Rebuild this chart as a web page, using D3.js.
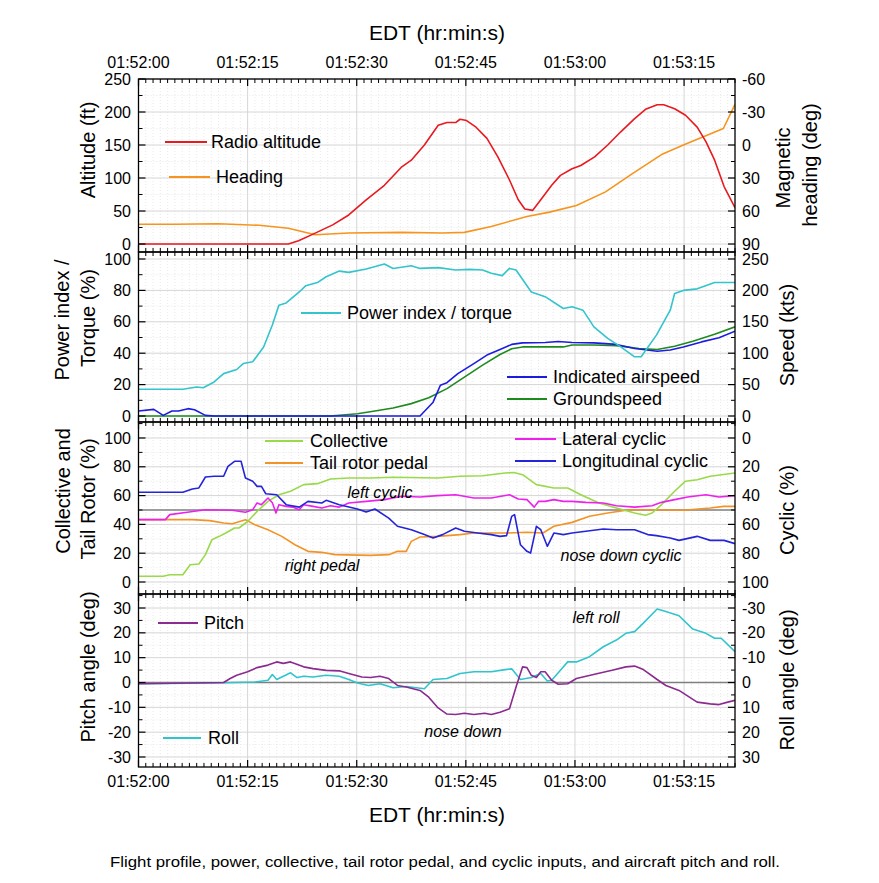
<!DOCTYPE html>
<html><head><meta charset="utf-8">
<script src="https://cdn.jsdelivr.net/npm/d3@7"></script>
<style>
body{margin:0;background:#fff}
text{font-family:"Liberation Sans",Arial,Helvetica,sans-serif;fill:#000}
</style>
</head><body>
<svg id="c" width="879" height="883"></svg>
<script>
// ---------------- DATA (time in seconds after 01:52:00) ----------------
const timeTickSeconds = [0, 15, 30, 45, 60, 75];
const timeTickLabels = ["01:52:00","01:52:15","01:52:30","01:52:45","01:53:00","01:53:15"];

// Panel 1
const radioAltitude = [[0,0],[20.6,0],[22,5],[24,15],[26.7,29],[28.9,44],[31.3,67],[33.8,89],[36.2,117],[37.5,127],[39.3,150],[41.2,180],[42.4,184],[43.6,184],[44.2,189],[45.1,187],[46.4,177],[47.9,160],[49.4,132],[51,97],[52.2,67],[53.1,53],[54.2,51],[55.3,67],[56.8,89],[58,104],[59.6,114],[60.8,119],[62.7,132],[64.5,150],[66.3,170],[68.2,190],[69.7,204],[71.3,211],[72.2,211],[73.7,205],[75.2,195],[76.8,177],[78,155],[79.2,127],[80.5,87],[82,55]];
const magneticHeading = [[0,72],[5,72],[11,71.6],[16.6,73],[20.6,75.6],[24.3,81.6],[28.9,80],[36.2,79.4],[41.8,80],[44.8,79.4],[48.5,74],[53.4,65],[56.5,61],[60.2,55],[64.2,42.6],[67.9,26],[71.9,8.7],[74.9,0],[80.4,-15],[82,-37]];

// Panel 2
const powerTorque = [[0,17],[6.1,17],[8,18.5],[8.9,18],[10.4,21.7],[11.7,27],[13.5,29.6],[14.4,33.4],[15.7,34.5],[17.2,44],[18.4,58],[19.3,70.6],[20.3,72],[22.1,79],[23,83],[24.6,85],[25.8,88.7],[27.6,92.3],[28.9,91.5],[31.3,93.6],[33.8,96.8],[35,94],[37.5,95.7],[38.7,94],[41.2,94.5],[43.6,93],[45.5,93.4],[47.3,93],[48.5,90.9],[50,89.4],[51,94],[51.9,93],[54,79],[55.9,76],[58.4,68.5],[59.6,69.6],[61.1,67.4],[62.6,56.8],[64.5,49.4],[66.3,44],[68.2,37.7],[69.1,37.7],[71.2,51.5],[73.1,67.4],[73.7,78],[74.9,80],[76.8,81],[79.2,85],[82,85]];
const indicatedAirspeed = [[0,8],[2.1,10.6],[3.4,1],[4.6,8],[5.5,8],[6.8,11.7],[7.7,10],[9.2,1],[10.4,0],[38.7,0],[40.5,22],[41.5,49],[42.4,53],[43.9,67.5],[46.1,83.5],[47.9,97],[49.7,106],[51.3,114],[52.8,116.5],[55.9,117],[57.7,118.6],[59.6,117],[62.6,116.5],[65.7,114],[68.2,107.4],[71.3,103],[73.1,105],[74.9,110],[77.4,118],[79.8,124.5],[82,135]];
const groundspeed = [[0,0],[26.4,0],[30.1,3.7],[32.5,8],[35,12.8],[37.5,19.7],[39.9,29],[42.4,43.6],[44.8,62],[47.3,81],[49.7,98],[51.3,107],[52.8,110],[58.4,110],[59.6,113],[62.6,113],[65.7,112],[68.8,107.5],[71.3,106],[73.7,111],[76.2,119],[79.2,130],[82,142]];

// Panel 3
const collective = [[0,4],[3.4,4],[4.3,5],[6.1,5],[7.1,12],[8.3,12.5],[9.2,19],[10.1,29.4],[11.1,31.7],[12,34],[13.2,37.5],[13.8,37.5],[15,42],[16.3,49],[17.8,56],[19.3,60.6],[20.9,63],[22.7,67.6],[24.6,68.3],[26.4,71.5],[28.9,72.2],[31.9,72.2],[35,72.7],[41.1,72.2],[44.2,73.4],[47.3,73.8],[50.4,75.7],[51.6,76],[52.8,74.5],[54.7,67.6],[57.1,65.3],[59,65.3],[60.8,60.6],[63.3,54.9],[65.7,51.4],[68.2,47.9],[69.7,46.3],[70.6,47.9],[71.9,53.7],[73.7,63],[75.2,70],[76.8,71],[78.6,73.4],[82,75.7]];
const tailRotorPedal = [[0,43.3],[7.4,43.3],[9.8,42.6],[11.7,41],[12.9,40.5],[14.7,43.3],[16,39.8],[17.8,36.3],[19.7,31.7],[21.5,25.9],[23.3,21.3],[25.2,20.6],[27,19],[31.9,18.5],[34.4,19],[35.6,21.3],[36.8,21.3],[37.5,28.2],[38.7,31.2],[41.1,31.7],[44.2,32.9],[46.1,34],[50.4,34],[53.4,34.5],[55.6,34],[57.1,38.7],[59.6,41.4],[62,45.6],[64.5,47.9],[67.5,50.2],[70.6,50.2],[74.9,49.8],[78.6,51.4],[80.5,52.5],[82,52.5]];
const lateralCyclic = [[0,56.7],[3.7,56.7],[4.3,53.2],[6.7,51.6],[9.2,49.8],[12.9,50.2],[14.7,51.6],[15.7,49.8],[16.3,45.1],[16.9,46.3],[17.8,41.7],[18.4,45],[18.9,52],[19.3,46.3],[20.3,47.5],[21.2,48],[22.1,49.8],[22.7,46.3],[24,47.5],[25.2,48.6],[26.4,47],[27.6,48],[28.9,45.1],[31.3,44],[33.8,42.8],[36.2,40.5],[38.7,41],[41.1,40],[43.6,39.4],[46.1,41.7],[48.5,41.7],[51,39.4],[52.2,42.4],[53.4,42.8],[54.4,48],[55,44],[55.9,44],[57.1,42.8],[58.4,44],[59.6,44],[61.5,44.7],[63.9,45.1],[65.7,47],[68.2,48],[70.6,47],[71.9,44.7],[73.7,42.8],[75.5,41],[78,39.4],[79.8,41],[82,40]];
const longitudinalCyclic = [[0,37.7],[6.1,37.7],[7.4,35.4],[8.3,34.7],[9.2,27.1],[10.4,26.6],[11.7,26.6],[12.3,19.7],[13.2,16.2],[14.1,16.2],[14.7,27.8],[15.7,30.1],[16.3,33.6],[16.9,33.6],[17.5,38.7],[19,39.4],[20.3,46.3],[22.1,48],[23.3,44],[25.2,45.1],[25.8,43.3],[27.6,46.3],[30.1,49.3],[31.3,51.4],[32.5,49.3],[34.4,55.6],[35.6,61.3],[37.5,63.7],[39.3,67.1],[40.5,69.4],[41.8,67.1],[43.6,62.5],[44.8,64.8],[46.6,66],[48.5,67.1],[49.7,68.3],[50.6,67.8],[51.3,54.4],[51.7,53.2],[52.5,74.1],[53.4,78.7],[53.9,79.9],[54.7,61.3],[55.3,63.7],[56.2,75.2],[57.1,66],[58.4,67.1],[59.6,66],[61.5,64.8],[63.9,63.2],[65.7,63.7],[68.2,63.7],[70,67.1],[71.2,67.8],[73.1,69.4],[74.3,71.1],[76.8,68.3],[78.6,71.1],[80.5,71.1],[82,73.4]];

// Panel 4
const pitchAngle = [[0,-0.5],[11.7,0],[12.6,1.6],[13.5,2.9],[15,4.3],[16.3,6],[17.8,7],[19,8.3],[19.9,7.7],[20.9,8.3],[22.7,6.3],[24,5.6],[25.8,4.9],[27.6,4.7],[28.9,3.6],[30.7,2.2],[31.9,2],[33.2,2.5],[34.4,1.6],[35.6,-1.2],[36.8,-1.8],[38.7,-3.2],[39.9,-5.9],[41.1,-10],[42.4,-12.7],[43.6,-12.9],[44.8,-12.4],[46.1,-12.9],[47.6,-12.4],[48.5,-12.9],[49.7,-12],[51,-10.6],[51.9,-1.8],[52.8,6.3],[53.4,6],[54,2.9],[54.7,2],[55.3,4.3],[55.9,4.3],[56.8,0.9],[57.7,-0.7],[59,-0.5],[60.2,1.6],[62.7,3.3],[65.1,4.9],[67,6.3],[68.2,6.6],[69.4,5.2],[71.3,1.2],[72.5,-1.2],[74.3,-3.2],[76.8,-7.9],[78.6,-8.6],[79.8,-8.9],[81,-7.9],[82,-7.2]];
const rollAngle = [[0,0.5],[10.4,0.2],[16,-0.2],[17.8,-0.9],[18.4,-3.2],[19,-1.2],[20.9,-3.9],[21.8,-2],[22.7,-2.5],[24,-2.2],[25.8,-2.9],[27.6,-2.5],[28.9,-1.2],[30.1,0.2],[31.6,1.2],[33.2,0.5],[35,2.1],[36.8,1.6],[39.3,2.5],[40.5,-1.2],[42.4,-1.6],[44.2,-3.6],[46.1,-4.3],[48.5,-4.3],[50.4,-5.2],[51.3,-5.5],[52.5,-1.2],[54,-2],[55.3,-3.6],[56.2,-0.6],[56.8,-0.9],[58,-4.9],[59,-8.3],[60.2,-8.3],[62,-10.4],[63.9,-14.4],[65.7,-17.1],[67,-19.8],[68.2,-20.5],[69.4,-23.9],[71.3,-29.6],[72.5,-28.6],[74.3,-26.9],[76.2,-21.5],[78,-19.8],[79.2,-17.8],[80.1,-17.8],[82,-12.4]];

const p1LeftTicks = [0,50,100,150,200,250], p1RightTicks = [-60,-30,0,30,60,90];
const p2LeftTicks = [0,20,40,60,80,100], p2RightTicks = [0,50,100,150,200,250];
const p3LeftTicks = [0,20,40,60,80,100], p3RightTicks = [0,20,40,60,80,100];
const p4LeftTicks = [-30,-20,-10,0,10,20,30], p4RightTicks = [-30,-20,-10,0,10,20,30];

// ---------------- LAYOUT ----------------
const svg = d3.select("#c");
const X0 = 138.5, X1 = 735;
const x = d3.scaleLinear().domain([0, 82]).range([X0, X1]);

const panels = [
  {top:79, bottom:252, ld:[-12.1,250], lt:p1LeftTicks, lm:25, rd:[97.26,-60], rt:p1RightTicks, rm:15},
  {top:252, bottom:422, ld:[-3.82,104.46], lt:p2LeftTicks, lm:10, rd:[-9.55,261.15], rt:p2RightTicks, rm:25},
  {top:422, bottom:594, ld:[-8.33,111.1], lt:p3LeftTicks, lm:10, rd:[108.33,-11.1], rt:p3RightTicks, rm:10},
  {top:594, bottom:767, ld:[-34.03,35.64], lt:p4LeftTicks, lm:5, rd:[34.03,-35.64], rt:p4RightTicks, rm:5}
];
panels.forEach((p,i)=>{
  p.yl = d3.scaleLinear().domain(p.ld).range([p.bottom, p.top]);
  p.yr = d3.scaleLinear().domain(p.rd).range([p.bottom, p.top]);
  svg.append("clipPath").attr("id","clip"+i).append("rect")
    .attr("x",X0).attr("y",p.top).attr("width",X1-X0).attr("height",p.bottom-p.top);
});

function minorVals(ticks, step, domain){
  const lo = Math.min(...domain), hi = Math.max(...domain);
  const out = [];
  for (let v = ticks[0]-step*20; v <= ticks[ticks.length-1]+step*20; v += step){
    const r = Math.round(v*1000)/1000;
    if (r >= lo && r <= hi && !ticks.includes(r)) out.push(r);
  }
  return out;
}
const minorSeconds = d3.range(0, 83, 1).filter(s => s%15 !== 0 && s <= 82);

const gGrid = svg.append("g");
panels.forEach(p=>{
  minorSeconds.forEach(s=>{
    gGrid.append("line").attr("x1",x(s)).attr("x2",x(s)).attr("y1",p.top).attr("y2",p.bottom)
      .attr("stroke","#e3e3e3").attr("stroke-width",0.8).attr("stroke-dasharray","1,2");
  });
  minorVals(p.lt,p.lm,p.ld).forEach(v=>{
    gGrid.append("line").attr("x1",X0).attr("x2",X1).attr("y1",p.yl(v)).attr("y2",p.yl(v))
      .attr("stroke","#e3e3e3").attr("stroke-width",0.8).attr("stroke-dasharray","1,2");
  });
  timeTickSeconds.forEach(s=>{
    gGrid.append("line").attr("x1",x(s)).attr("x2",x(s)).attr("y1",p.top).attr("y2",p.bottom)
      .attr("stroke","#d6d6d6").attr("stroke-width",1);
  });
  p.lt.forEach(v=>{
    gGrid.append("line").attr("x1",X0).attr("x2",X1).attr("y1",p.yl(v)).attr("y2",p.yl(v))
      .attr("stroke","#d6d6d6").attr("stroke-width",1);
  });
});

// reference lines
svg.append("line").attr("x1",X0).attr("x2",X1).attr("y1",panels[2].yl(50)).attr("y2",panels[2].yl(50))
  .attr("stroke","#7f7f7f").attr("stroke-width",1.5);
svg.append("line").attr("x1",X0).attr("x2",X1).attr("y1",panels[3].yl(0)).attr("y2",panels[3].yl(0))
  .attr("stroke","#7f7f7f").attr("stroke-width",1.5);

// data lines
function drawSeries(pi, data, scaleKey, color){
  const p = panels[pi];
  const y = p[scaleKey];
  const line = d3.line().x(d=>x(d[0])).y(d=>y(d[1]));
  svg.append("path").datum(data).attr("d",line).attr("fill","none")
    .attr("stroke",color).attr("stroke-width",1.6).attr("stroke-linejoin","round")
    .attr("clip-path","url(#clip"+pi+")");
}
const C = {
  radio:"#e8191f", heading:"#f7941d", power:"#33c4cc", ias:"#1c1ce0", gs:"#1e8a1e",
  coll:"#9ad94a", pedal:"#f39325", lat:"#ec22ec", lon:"#2424d9", pitch:"#8b2a8f", roll:"#30c5cc"
};
drawSeries(0, magneticHeading, "yr", C.heading);
drawSeries(0, radioAltitude, "yl", C.radio);
drawSeries(1, groundspeed, "yr", C.gs);
drawSeries(1, indicatedAirspeed, "yr", C.ias);
drawSeries(1, powerTorque, "yl", C.power);
drawSeries(2, tailRotorPedal, "yl", C.pedal);
drawSeries(2, collective, "yl", C.coll);
drawSeries(2, lateralCyclic, "yr", C.lat);
drawSeries(2, longitudinalCyclic, "yr", C.lon);
drawSeries(3, rollAngle, "yr", C.roll);
drawSeries(3, pitchAngle, "yl", C.pitch);

// borders and ticks
const gAx = svg.append("g").attr("stroke","#000");
const MAJ = 7, MIN = 4;
panels.forEach(p=>{
  gAx.append("rect").attr("x",X0).attr("y",p.top).attr("width",X1-X0).attr("height",p.bottom-p.top)
    .attr("fill","none").attr("stroke-width",1.3);
  timeTickSeconds.forEach(s=>{
    gAx.append("line").attr("x1",x(s)).attr("x2",x(s)).attr("y1",p.top).attr("y2",p.top+MAJ).attr("stroke-width",1.2);
    gAx.append("line").attr("x1",x(s)).attr("x2",x(s)).attr("y1",p.bottom).attr("y2",p.bottom-MAJ).attr("stroke-width",1.2);
  });
  minorSeconds.forEach(s=>{
    gAx.append("line").attr("x1",x(s)).attr("x2",x(s)).attr("y1",p.top).attr("y2",p.top+MIN).attr("stroke-width",1);
    gAx.append("line").attr("x1",x(s)).attr("x2",x(s)).attr("y1",p.bottom).attr("y2",p.bottom-MIN).attr("stroke-width",1);
  });
  p.lt.forEach(v=>{
    gAx.append("line").attr("x1",X0).attr("x2",X0+MAJ).attr("y1",p.yl(v)).attr("y2",p.yl(v)).attr("stroke-width",1.2);
  });
  minorVals(p.lt,p.lm,p.ld).forEach(v=>{
    gAx.append("line").attr("x1",X0).attr("x2",X0+MIN).attr("y1",p.yl(v)).attr("y2",p.yl(v)).attr("stroke-width",1);
  });
  p.rt.forEach(v=>{
    gAx.append("line").attr("x1",X1).attr("x2",X1-MAJ).attr("y1",p.yr(v)).attr("y2",p.yr(v)).attr("stroke-width",1.2);
  });
  minorVals(p.rt,p.rm,p.rd).forEach(v=>{
    gAx.append("line").attr("x1",X1).attr("x2",X1-MIN).attr("y1",p.yr(v)).attr("y2",p.yr(v)).attr("stroke-width",1);
  });
  p.lt.forEach(v=>{
    svg.append("text").attr("x",131).attr("y",p.yl(v)).attr("dy","0.35em").attr("text-anchor","end")
      .style("font-size","16px").text(v);
  });
  p.rt.forEach(v=>{
    svg.append("text").attr("x",742).attr("y",p.yr(v)).attr("dy","0.35em").attr("text-anchor","start")
      .style("font-size","16px").text(v);
  });
});

// time labels top & bottom
timeTickSeconds.forEach((s,i)=>{
  svg.append("text").attr("x",x(s)).attr("y",62).attr("dy","0.35em").attr("text-anchor","middle")
    .style("font-size","16px").text(timeTickLabels[i]);
  svg.append("text").attr("x",x(s)).attr("y",781).attr("dy","0.35em").attr("text-anchor","middle")
    .style("font-size","16px").text(timeTickLabels[i]);
});

// axis titles
svg.append("text").attr("x",437).attr("y",33).attr("dy","0.35em").attr("text-anchor","middle")
  .style("font-size","21px").text("EDT (hr:min:s)");
svg.append("text").attr("x",437).attr("y",815).attr("dy","0.35em").attr("text-anchor","middle")
  .style("font-size","21px").text("EDT (hr:min:s)");

function vTitle(cx, cy, txt){
  svg.append("text").attr("transform",`translate(${cx},${cy}) rotate(-90)`).attr("dy","0.35em")
    .attr("text-anchor","middle").style("font-size","20px").text(txt);
}
vTitle(88,150,"Altitude (ft)");
vTitle(62,320,"Power index /");
vTitle(88,318,"Torque (%)");
vTitle(63,491,"Collective and");
vTitle(88,499,"Tail Rotor (%)");
vTitle(88,667,"Pitch angle (deg)");
vTitle(783,168,"Magnetic");
vTitle(810,165,"heading (deg)");
vTitle(787,335,"Speed (kts)");
vTitle(787,510,"Cyclic (%)");
vTitle(787,680,"Roll angle (deg)");

// legends
function legend(x1,x2,y,color,tx,txt){
  svg.append("line").attr("x1",x1).attr("x2",x2).attr("y1",y).attr("y2",y)
    .attr("stroke",color).attr("stroke-width",2);
  svg.append("text").attr("x",tx).attr("y",y).attr("dy","0.35em").style("font-size","18px").text(txt);
}
legend(165,207,142,C.radio,211,"Radio altitude");
legend(169,210,177,C.heading,216,"Heading");
legend(301,341,313,C.power,347,"Power index / torque");
legend(507,547,377,C.ias,553,"Indicated airspeed");
legend(507,547,399,C.gs,553,"Groundspeed");
legend(265,303,441,C.coll,310,"Collective");
legend(265,303,463,C.pedal,310,"Tail rotor pedal");
legend(515,556,439,C.lat,562,"Lateral cyclic");
legend(515,556,461,C.lon,562,"Longitudinal cyclic");
legend(158,198,623,C.pitch,204,"Pitch");
legend(163,201,738,C.roll,208,"Roll");

// annotations
function note(cx,cy,txt){
  svg.append("text").attr("x",cx).attr("y",cy).attr("dy","0.35em").attr("text-anchor","middle")
    .style("font-size","16px").style("font-style","italic").text(txt);
}
note(380,492,"left cyclic");
note(322,565,"right pedal");
note(621,555,"nose down cyclic");
note(596,617,"left roll");
note(463,731,"nose down");

// caption
svg.append("text").attr("x",445).attr("y",862).attr("dy","0.35em").attr("text-anchor","middle")
  .attr("textLength",670).attr("lengthAdjust","spacingAndGlyphs")
  .style("font-size","15.5px").text("Flight profile, power, collective, tail rotor pedal, and cyclic inputs, and aircraft pitch and roll.");
</script>
</body></html>
